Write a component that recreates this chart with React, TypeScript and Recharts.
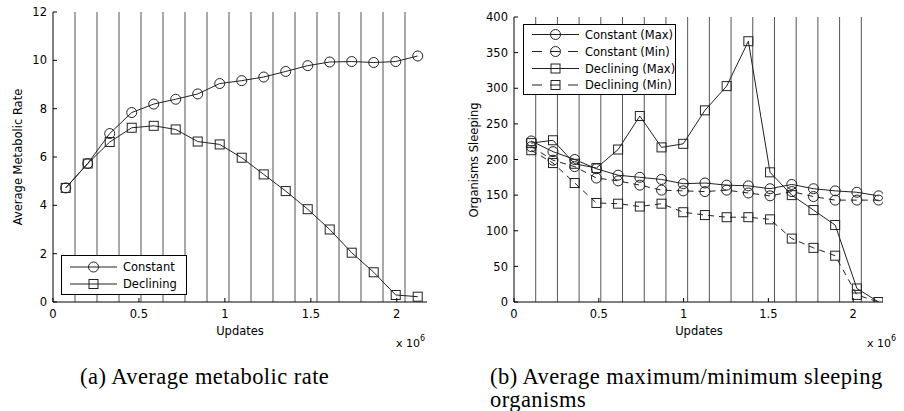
import React from 'react';
import { LineChart, Line, XAxis, YAxis, ReferenceLine } from 'recharts';

// ---- data ----
const leftUpdates = [74000, 202000, 330000, 458000, 586000, 714000, 842000, 970000, 1098000, 1226000, 1354000, 1482000, 1610000, 1738000, 1866000, 1994000, 2122000];
const constantRate = [4.72, 5.73, 6.97, 7.84, 8.19, 8.39, 8.61, 9.04, 9.16, 9.31, 9.54, 9.78, 9.93, 9.95, 9.91, 9.95, 10.18];
const decliningRate = [4.72, 5.73, 6.62, 7.21, 7.29, 7.14, 6.64, 6.52, 5.97, 5.28, 4.59, 3.84, 3.0, 2.04, 1.23, 0.29, 0.22];

const rightUpdates = [102000, 230000, 358000, 486000, 614000, 742000, 870000, 998000, 1126000, 1254000, 1382000, 1510000, 1638000, 1766000, 1894000, 2022000, 2150000];
const constantMax = [226, 211, 200, 187, 178, 175, 172, 166, 167, 164, 163, 159, 165, 159, 156, 154, 149];
const constantMin = [218, 199, 190, 174, 170, 164, 157, 156, 155, 157, 153, 149, 155, 148, 143, 143, 143];
const decliningMax = [223, 227, 194, 188, 214, 261, 217, 222, 269, 303, 366, 182, 150, 129, 108, 19, 0];
const decliningMin = [213, 195, 167, 139, 138, 134, 138, 126, 122, 119, 119, 116, 89, 76, 65, 10, 0];

const gridUpdates = [128000, 256000, 384000, 512000, 640000, 768000, 896000, 1024000, 1152000, 1280000, 1408000, 1536000, 1664000, 1792000, 1920000, 2048000];
const xTicks = [0, 500000, 1000000, 1500000, 2000000];
const leftYTicks = [0, 2, 4, 6, 8, 10, 12];
const rightYTicks = [0, 50, 100, 150, 200, 250, 300, 350, 400];

const leftRows = leftUpdates.map((u, i) => ({ u, constant: constantRate[i], declining: decliningRate[i] }));
const rightRows = rightUpdates.map((u, i) => ({
  u,
  cmax: constantMax[i],
  cmin: constantMin[i],
  dmax: decliningMax[i],
  dmin: decliningMin[i],
}));

const SANS = 'DejaVu Sans, Arial, sans-serif';
const SERIF = 'Liberation Serif, Times New Roman, serif';
const LINE = '#222';
const DASH = '6 5';

const circleDot = (props: any) => {
  const { cx, cy, index } = props;
  if (cx == null || cy == null) return <g key={`c${index}`} />;
  return <circle key={`c${index}`} cx={cx} cy={cy} r={5} fill="none" stroke={LINE} strokeWidth={1} />;
};
const squareDot = (props: any) => {
  const { cx, cy, index } = props;
  if (cx == null || cy == null) return <g key={`s${index}`} />;
  return <rect key={`s${index}`} x={cx - 4.5} y={cy - 4.5} width={9} height={9} fill="none" stroke={LINE} strokeWidth={1} />;
};

const fmtX = (v: number) => String(v / 1000000);

const XTick = (props: any) => {
  const { x, y, payload } = props;
  return (
    <g>
      <line x1={x} x2={x} y1={y - 7} y2={y - 11} stroke="#000" strokeWidth={1} />
      <text x={x} y={y} dy="0.75em" textAnchor="middle" fontSize={11.5} fontFamily={SANS} fill="#000">
        {fmtX(payload.value)}
      </text>
    </g>
  );
};
const YTick = (props: any) => {
  const { x, y, payload } = props;
  return (
    <g>
      <line x1={x + 6} x2={x + 10} y1={y} y2={y} stroke="#000" strokeWidth={1} />
      <text x={x} y={y} dy="0.36em" textAnchor="end" fontSize={11.5} fontFamily={SANS} fill="#000">
        {payload.value}
      </text>
    </g>
  );
};

const abs = (left: number, top: number, extra: any = {}): any => ({ position: 'absolute', left, top, ...extra });

const LegendMarker = ({ kind, cx, cy }: { kind: string; cx: number; cy: number }) =>
  kind === 'circle' ? (
    <circle cx={cx} cy={cy} r={5} fill="none" stroke={LINE} />
  ) : (
    <rect x={cx - 4.5} y={cy - 4.5} width={9} height={9} fill="none" stroke={LINE} />
  );

const Legend = ({ left, top, width, height, entries }: any) => (
  <svg style={abs(left, top)} width={width} height={height}>
    <rect x={0.5} y={0.5} width={width - 1} height={height - 1} fill="#fff" stroke="#000" strokeWidth={1} />
    {entries.map((e: any, i: number) => (
      <g key={i}>
        <line x1={9} x2={56} y1={e.y} y2={e.y} stroke={LINE} strokeWidth={1} strokeDasharray={e.dashed ? '10 8' : undefined} />
        <LegendMarker kind={e.kind} cx={32.5} cy={e.y} />
        <text x={62} y={e.y} dy="0.36em" fontSize={11.5} fontFamily={SANS} fill="#000">
          {e.label}
        </text>
      </g>
    ))}
  </svg>
);

const AxisText = ({ x, y, text, rotate }: any) => (
  <div
    style={abs(x, y, {
      transform: `translate(-50%, -50%)${rotate ? ' rotate(-90deg)' : ''}`,
      fontFamily: SANS,
      fontSize: 11.5,
      whiteSpace: 'nowrap',
      lineHeight: '14px',
      color: '#000',
    })}
  >
    {text}
  </div>
);

const Exponent = ({ x, y }: any) => (
  <div style={abs(x, y, { fontFamily: SANS, fontSize: 11, whiteSpace: 'nowrap', lineHeight: '12px', color: '#000' })}>
    x 10<sup style={{ fontSize: 8, verticalAlign: 'top', position: 'relative', top: -5 }}>6</sup>
  </div>
);

const captionStyle = {
  fontFamily: SERIF,
  fontSize: 22.5,
  letterSpacing: 0.45,
  lineHeight: '23px',
  whiteSpace: 'nowrap',
  color: '#000',
};

export default function App() {
  return (
    <div style={{ position: 'absolute', left: 0, top: 0, width: 904, height: 411, background: '#fff', overflow: 'hidden' }}>
      {/* Left chart */}
      <div style={abs(0, 0)}>
        <LineChart width={452} height={411} data={leftRows} margin={{ top: 12, right: 25, bottom: 0, left: 0 }}>
          <XAxis
            dataKey="u"
            type="number"
            domain={[0, 2176000]}
            ticks={xTicks}
            allowDataOverflow
            height={109}
            tickSize={0}
            tickMargin={7}
            tick={<XTick />}
            axisLine={{ stroke: '#000' }}
            tickLine={false}
          />
          <YAxis
            domain={[0, 12]}
            ticks={leftYTicks}
            width={53}
            tickSize={0}
            tickMargin={6}
            tick={<YTick />}
            axisLine={{ stroke: '#000' }}
            tickLine={false}
            allowDataOverflow
          />
          {gridUpdates.map((g) => (
            <ReferenceLine key={g} x={g} stroke="#555" strokeWidth={1} />
          ))}
          <Line dataKey="constant" stroke={LINE} strokeWidth={1} dot={circleDot} isAnimationActive={false} />
          <Line dataKey="declining" stroke={LINE} strokeWidth={1} dot={squareDot} isAnimationActive={false} />
        </LineChart>
      </div>

      {/* Right chart */}
      <div style={abs(452, 0)}>
        <LineChart width={452} height={411} data={rightRows} margin={{ top: 17, right: 21, bottom: 0, left: 0 }}>
          <XAxis
            dataKey="u"
            type="number"
            domain={[0, 2176000]}
            ticks={xTicks}
            allowDataOverflow
            height={109}
            tickSize={0}
            tickMargin={7}
            tick={<XTick />}
            axisLine={{ stroke: '#000' }}
            tickLine={false}
          />
          <YAxis
            domain={[0, 400]}
            ticks={rightYTicks}
            width={62}
            tickSize={0}
            tickMargin={6}
            tick={<YTick />}
            axisLine={{ stroke: '#000' }}
            tickLine={false}
            allowDataOverflow
          />
          {gridUpdates.map((g) => (
            <ReferenceLine key={g} x={g} stroke="#555" strokeWidth={1} />
          ))}
          <Line dataKey="cmax" stroke={LINE} strokeWidth={1} dot={circleDot} isAnimationActive={false} />
          <Line dataKey="cmin" stroke={LINE} strokeWidth={1} strokeDasharray={DASH} dot={circleDot} isAnimationActive={false} />
          <Line dataKey="dmax" stroke={LINE} strokeWidth={1} dot={squareDot} isAnimationActive={false} />
          <Line dataKey="dmin" stroke={LINE} strokeWidth={1} strokeDasharray={DASH} dot={squareDot} isAnimationActive={false} />
        </LineChart>
      </div>

      {/* Axis titles */}
      <AxisText x={18} y={157} text="Average Metabolic Rate" rotate />
      <AxisText x={240} y={331} text="Updates" />
      <Exponent x={396} y={338} />
      <AxisText x={474} y={160} text="Organisms Sleeping" rotate />
      <AxisText x={699} y={331} text="Updates" />
      <Exponent x={867} y={338} />

      {/* Legends */}
      <Legend
        left={61}
        top={255}
        width={126}
        height={40}
        entries={[
          { label: 'Constant', kind: 'circle', dashed: false, y: 12 },
          { label: 'Declining', kind: 'square', dashed: false, y: 29 },
        ]}
      />
      <Legend
        left={523}
        top={24}
        width={153}
        height={71}
        entries={[
          { label: 'Constant (Max)', kind: 'circle', dashed: false, y: 10.5 },
          { label: 'Constant (Min)', kind: 'circle', dashed: true, y: 27.5 },
          { label: 'Declining (Max)', kind: 'square', dashed: false, y: 44.5 },
          { label: 'Declining (Min)', kind: 'square', dashed: true, y: 61 },
        ]}
      />

      {/* Captions */}
      <div style={abs(80, 365, captionStyle)}>(a) Average metabolic rate</div>
      <div style={abs(490, 365, captionStyle)}>(b) Average maximum/minimum sleeping</div>
      <div style={abs(490, 388, captionStyle)}>organisms</div>
    </div>
  );
}
